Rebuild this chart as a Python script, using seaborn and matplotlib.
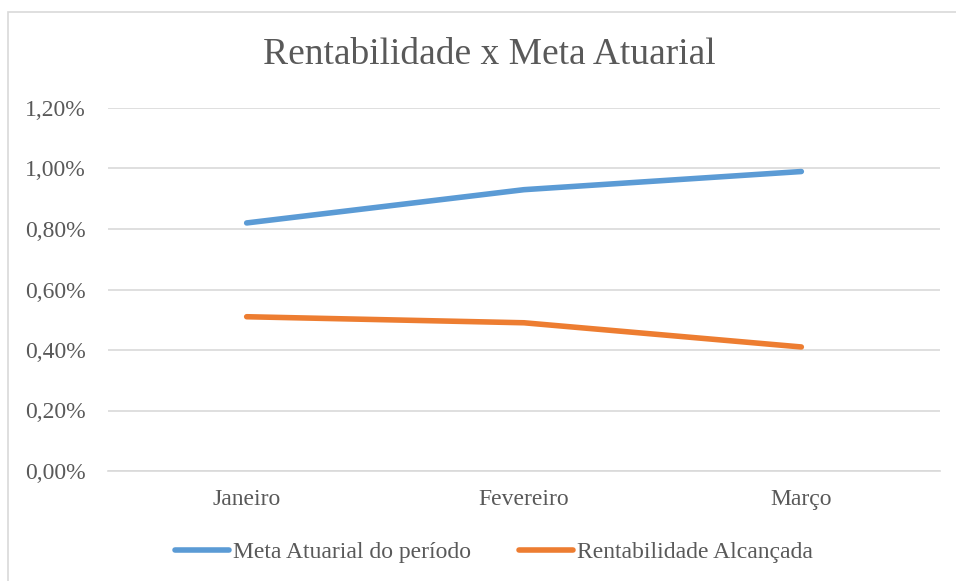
import numpy as np
import pandas as pd
import seaborn as sns
import matplotlib.pyplot as plt
from matplotlib.patches import Rectangle
from matplotlib.ticker import FuncFormatter

# dados
meses = ['Janeiro', 'Fevereiro', 'Março']
meta_atuarial = [0.82, 0.93, 0.99]
rentabilidade = [0.51, 0.49, 0.41]
series_nomes = ['Meta Atuarial do período', 'Rentabilidade Alcançada']
cores = ['#5B9BD5', '#ED7D31']
y_ticks = [0.0, 0.2, 0.4, 0.6, 0.8, 1.0, 1.2]

df = pd.DataFrame({
    'Mes': meses * 2,
    'Valor': meta_atuarial + rentabilidade,
    'Serie': [series_nomes[0]] * 3 + [series_nomes[1]] * 3,
})

sns.set_style('white')
plt.rcParams['font.family'] = ['Liberation Serif', 'DejaVu Serif']

fig = plt.figure(figsize=(9.56, 5.81), dpi=100)
ax = fig.add_axes([108 / 956, 1 - 471 / 581, 832 / 956, 363 / 581])

# borda externa (só esquerda e topo aparecem)
fig.patches.append(Rectangle((8 / 956, -0.5), 2.0, 1 - 12 / 581 + 0.5,
                             transform=fig.transFigure, fill=False,
                             edgecolor='#D9D9D9', linewidth=1.2, zorder=0))

sns.lineplot(data=df, x='Mes', y='Valor', hue='Serie', palette=cores,
             linewidth=4, ax=ax, sort=False, solid_capstyle='round')

ax.set_xlim(-0.5, 2.5)
ax.set_ylim(0, 1.2)
ax.set_yticks(y_ticks)
ax.yaxis.set_major_formatter(FuncFormatter(lambda v, p: f'{v:.2f}%'.replace('.', ',')))
ax.grid(axis='y', color='#D9D9D9', linewidth=1.2)
ax.grid(axis='x', visible=False)
ax.set_axisbelow(True)
for s in ['top', 'right', 'left']:
    ax.spines[s].set_visible(False)
ax.spines['bottom'].set_color('#D9D9D9')
ax.spines['bottom'].set_linewidth(1.2)
ax.tick_params(axis='both', length=0, labelsize=17, labelcolor='#595959')
ax.tick_params(axis='y', pad=16)
ax.tick_params(axis='x', pad=13)
ax.set_xlabel('')
ax.set_ylabel('')

fig.text(489 / 956, 1 - 55 / 581, 'Rentabilidade x Meta Atuarial',
         ha='center', va='center', fontsize=27, color='#595959')

handles, labels = ax.get_legend_handles_labels()
ax.legend(handles, labels, loc='center', bbox_to_anchor=(494 / 956, 1 - 552 / 581),
          bbox_transform=fig.transFigure, ncol=2, frameon=False, fontsize=17,
          labelcolor='#595959', handlelength=2.3, handletextpad=0.17,
          columnspacing=2.0)

plt.savefig('out.png', dpi=100)
